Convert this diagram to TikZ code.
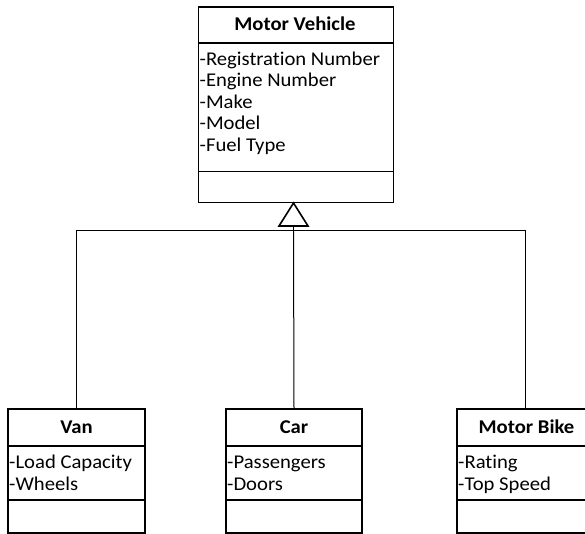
\documentclass[tikz,border=0pt]{standalone}
\usepackage{fontspec}
\setmainfont{Carlito}[Ligatures=NoCommon, FakeStretch=1.06]
\usetikzlibrary{calc}
\begin{document}
\begin{tikzpicture}[x=1pt,y=-1pt,
  box/.style={draw=black, line width=1.4pt, inner sep=0pt, outer sep=0pt, anchor=north west},
  sep/.style={draw=black, line width=1.4pt},
  title/.style={font=\bfseries\fontsize{19.5}{21.5}\selectfont, inner sep=0pt, anchor=base},
  attr/.style={font=\fontsize{19.5}{21.5}\selectfont, inner sep=0pt, anchor=base west},
  conn/.style={draw=black, line width=1pt},
  tri/.style={draw=black, line width=1.6pt, fill=white, line join=miter}]
\useasboundingbox (0,0) rectangle (585,534);
\clip (0,0) rectangle (585,534);
% Motor Vehicle
\node[box, minimum width=195pt, minimum height=195.5pt] (mv) at (198.5,7) {};
\draw[sep] (198.5,43) -- (393.5,43);
\draw[sep] (198.5,171.5) -- (393.5,171.5);
\node[title] (mvt) at (295,31) {Motor Vehicle};
\node[attr] (mva1) at (199.5,65.5) {-Registration Number};
\node[attr] (mva2) at (199.5,87) {-Engine Number};
\node[attr] (mva3) at (199.5,108.5) {-Make};
\node[attr] (mva4) at (199.5,130) {-Model};
\node[attr] (mva5) at (199.5,151.5) {-Fuel Type};
% Van
\node[box, minimum width=137pt, minimum height=124pt] (van) at (8,409) {};
\draw[sep] (8,446) -- (145,446);
\draw[sep] (8,500) -- (145,500);
\node[title] (vant) at (76.5,433) {Van};
\node[attr] (vana1) at (9,468) {-Load Capacity};
\node[attr] (vana2) at (9,490) {-Wheels};
% Car
\node[box, minimum width=136pt, minimum height=124pt] (car) at (226,409) {};
\draw[sep] (226,446) -- (362,446);
\draw[sep] (226,500) -- (362,500);
\node[title] (cart) at (294,433) {Car};
\node[attr] (cara1) at (227,468) {-Passengers};
\node[attr] (cara2) at (227,490) {-Doors};
% Motor Bike
\node[box, minimum width=136pt, minimum height=124pt] (bike) at (457,409) {};
\draw[sep] (457,446) -- (593,446);
\draw[sep] (457,500) -- (593,500);
\node[title] (biket) at (526.5,433) {Motor Bike};
\node[attr] (bikea1) at (458,468) {-Rating};
\node[attr] (bikea2) at (458,490) {-Top Speed};
% connectors
\coordinate (apex) at (293.5,203);
\coordinate (tbase) at (293.5,226);
\coordinate (join) at (293.5,230.5);
\draw[conn] (tbase) -- (join);
\draw[conn] (join) -| (van.north);
\draw[conn] (join) -- (car.north);
\draw[conn] (join) -| (bike.north);
\draw[tri] (apex) -- ($(tbase)+(-14.5,0)$) -- ($(tbase)+(14.5,0)$) -- cycle;
\end{tikzpicture}
\end{document}
